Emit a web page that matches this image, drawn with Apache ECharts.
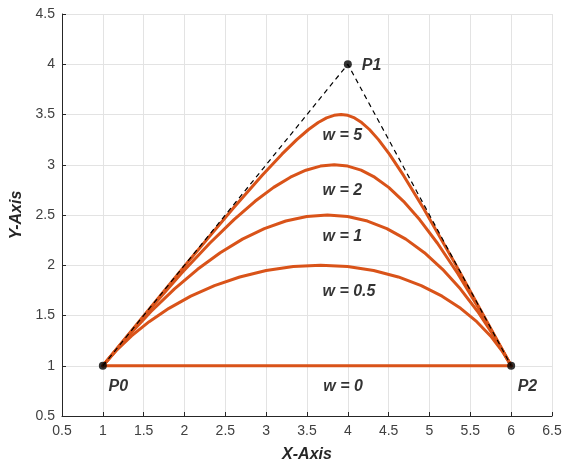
<!DOCTYPE html>
<html>
<head>
<meta charset="utf-8">
<script src="https://cdn.jsdelivr.net/npm/echarts@6/dist/echarts.min.js"></script>
<style>
  html, body { margin: 0; padding: 0; background: #ffffff; }
  #chart { width: 573px; height: 468px; }
</style>
</head>
<body>
<div id="chart"></div>
<script>
// Control points of the rational quadratic Bezier curve
const controlPoints = [[1, 1], [4, 4], [6, 1]];

// Sampled curve points for each weight on the middle control point
const curveW0 = [[1, 1], [6, 1]];
const curveW05 = [
  [1, 1], [1.1627, 1.1496], [1.3516, 1.2967], [1.5673, 1.4384], [1.8095, 1.5714],
  [2.0769, 1.6923], [2.3671, 1.7975], [2.6764, 1.8835], [3.0, 1.9474], [3.3322, 1.9867],
  [3.6667, 2.0], [3.9967, 1.9867], [4.3158, 1.9474], [4.6181, 1.8835], [4.8987, 1.7975],
  [5.1538, 1.6923], [5.3810, 1.5714], [5.5788, 1.4384], [5.7473, 1.2967], [5.8871, 1.1496],
  [6, 1]
];
const curveW1 = [
  [1, 1], [1.2975, 1.285], [1.59, 1.54], [1.8775, 1.765], [2.16, 1.96],
  [2.4375, 2.125], [2.71, 2.26], [2.9775, 2.365], [3.24, 2.44], [3.4975, 2.485],
  [3.75, 2.5], [3.9975, 2.485], [4.24, 2.44], [4.4775, 2.365], [4.71, 2.26],
  [4.9375, 2.125], [5.16, 1.96], [5.3775, 1.765], [5.59, 1.54], [5.7975, 1.285],
  [6, 1]
];
const curveW2 = [
  [1, 1], [1.532, 1.5205], [1.9576, 1.9153], [2.3088, 2.2191], [2.6061, 2.4545],
  [2.8636, 2.6364], [3.0915, 2.7746], [3.2973, 2.8763], [3.4865, 2.9459], [3.6639, 2.9866],
  [3.8333, 3.0], [3.9983, 2.9866], [4.1622, 2.9459], [4.3282, 2.8763], [4.5, 2.7746],
  [4.6818, 2.6364], [4.8788, 2.4545], [5.0976, 2.2191], [5.3475, 1.9153], [5.6416, 1.5205],
  [6, 1]
];
const curveW5 = [
  [1, 1], [2.0417, 2.0326], [2.5988, 2.5698], [2.9493, 2.8936], [3.193, 3.1053],
  [3.375, 3.25], [3.5187, 3.3507], [3.6374, 3.4202], [3.7397, 3.4658], [3.8314, 3.4916],
  [3.9167, 3.5], [3.9992, 3.4916], [4.0822, 3.4658], [4.1693, 3.4202], [4.2649, 3.3507],
  [4.375, 3.25], [4.5088, 3.1053], [4.6819, 2.8936], [4.9244, 2.5698], [5.3025, 2.0326],
  [6, 1]
];

// Text annotations: [x, y, text]
const weightNotes = [
  [3.69, 3.29, 'w = 5'],
  [3.69, 2.74, 'w = 2'],
  [3.69, 2.29, 'w = 1'],
  [3.69, 1.74, 'w = 0.5'],
  [3.70, 0.79, 'w = 0']
];
const pointNotes = [
  [1.07, 0.79, 'P0'],
  [4.17, 3.99, 'P1'],
  [6.08, 0.79, 'P2']
];

const curveColor = '#D95319';
const textFont = 'Liberation Sans, Arial, sans-serif';

function curveSeries(data) {
  return {
    type: 'line',
    data: data,
    showSymbol: false,
    smooth: false,
    lineStyle: { color: curveColor, width: 3, join: 'round', cap: 'round' },
    z: 3,
    silent: true
  };
}

function noteSeries(notes) {
  return {
    type: 'scatter',
    data: notes.map(n => ({ value: [n[0], n[1]], name: n[2] })),
    symbolSize: 0,
    z: 6,
    silent: true,
    label: {
      show: true,
      position: 'right',
      distance: 0,
      formatter: p => p.name,
      fontFamily: textFont,
      fontSize: 16,
      fontWeight: 'bold',
      fontStyle: 'italic',
      color: '#000000'
    }
  };
}

const axisCommon = {
  type: 'value',
  interval: 0.5,
  axisLine: { show: true, lineStyle: { color: '#262626', width: 1 } },
  axisTick: { show: true, inside: true, length: 4, lineStyle: { color: '#262626' } },
  splitLine: { show: true, lineStyle: { color: '#e3e3e3', width: 1 } },
  axisLabel: { color: '#404040', fontFamily: textFont, fontSize: 14 },
  nameLocation: 'middle',
  nameTextStyle: {
    color: '#262626', fontFamily: textFont, fontSize: 16,
    fontWeight: 'bold', fontStyle: 'italic'
  }
};

const chart = echarts.init(document.getElementById('chart'), null, { renderer: 'canvas' });
chart.setOption({
  animation: false,
  backgroundColor: '#ffffff',
  grid: { left: 62, right: 21, top: 14, bottom: 50 },
  xAxis: Object.assign({}, axisCommon, {
    min: 0.5, max: 6.5,
    name: 'X-Axis', nameGap: 31,
    axisLabel: Object.assign({}, axisCommon.axisLabel, { margin: 8 })
  }),
  yAxis: Object.assign({}, axisCommon, {
    min: 0.5, max: 4.5,
    name: 'Y-Axis', nameGap: 32, nameRotate: 90,
    axisLabel: Object.assign({}, axisCommon.axisLabel, { margin: 7 })
  }),
  series: [
    curveSeries(curveW0),
    curveSeries(curveW05),
    curveSeries(curveW1),
    curveSeries(curveW2),
    curveSeries(curveW5),
    {
      type: 'line',
      data: controlPoints,
      showSymbol: false,
      lineStyle: { color: '#000000', width: 1.2, type: [5, 4] },
      z: 4,
      silent: true
    },
    {
      type: 'scatter',
      data: controlPoints,
      symbol: 'circle',
      symbolSize: 8,
      itemStyle: { color: '#000000' },
      z: 5,
      silent: true
    },
    noteSeries(weightNotes),
    noteSeries(pointNotes)
  ]
});
</script>
</body>
</html>
